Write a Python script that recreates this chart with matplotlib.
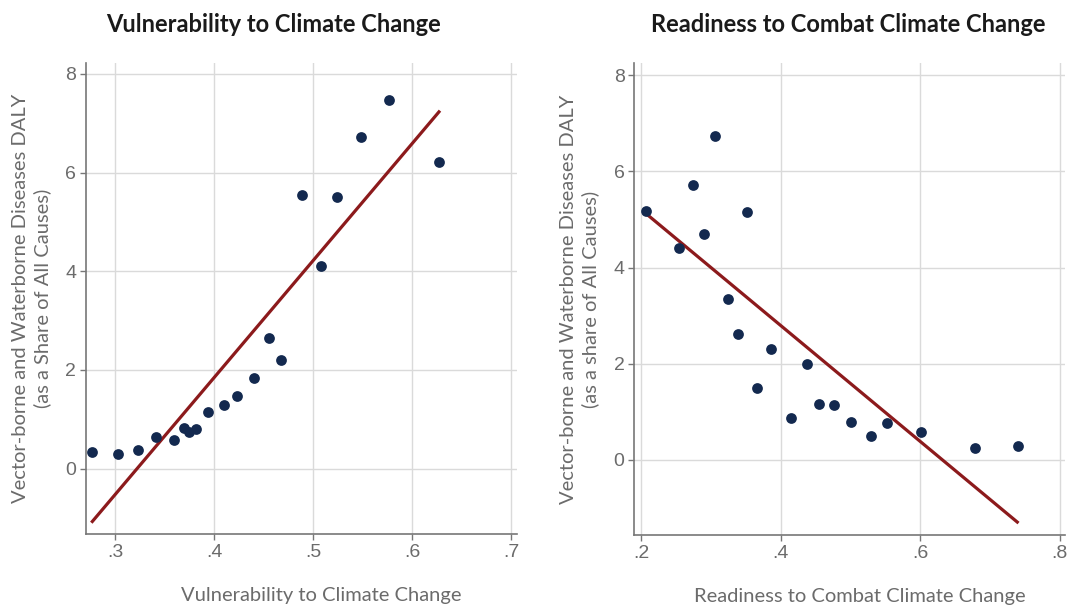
import numpy as np
import matplotlib
matplotlib.use("Agg")
import matplotlib.pyplot as plt

# vulnerability index vs. disease burden (DALY share, %)
vuln_x = [0.2768, 0.3030, 0.3229, 0.3414, 0.3590, 0.3690, 0.3747, 0.3818,
          0.3933, 0.4098, 0.4229, 0.4398, 0.4553, 0.4677, 0.4883, 0.5078,
          0.5239, 0.5479, 0.5768, 0.6273]
vuln_y = [0.34, 0.30, 0.37, 0.64, 0.58, 0.82, 0.74, 0.81,
          1.14, 1.30, 1.48, 1.84, 2.64, 2.20, 5.55, 4.10,
          5.51, 6.73, 7.47, 6.21]
vuln_fit_x = [0.2768, 0.6270]
vuln_fit_y = [-1.07, 7.23]

# readiness index vs. disease burden
ready_x = [0.2067, 0.2540, 0.2745, 0.2898, 0.3060, 0.3246, 0.3389, 0.3518,
           0.3657, 0.3866, 0.4153, 0.4373, 0.4545, 0.4760, 0.5007, 0.5289,
           0.5518, 0.6014, 0.6779, 0.7399]
ready_y = [5.18, 4.41, 5.71, 4.70, 6.73, 3.35, 2.62, 5.16,
           1.49, 2.31, 0.86, 1.99, 1.15, 1.13, 0.79, 0.49,
           0.77, 0.57, 0.25, 0.29]
ready_fit_x = [0.2067, 0.7390]
ready_fit_y = [5.13, -1.30]

vuln_ticks = [0.3, 0.4, 0.5, 0.6, 0.7]
ready_ticks = [0.2, 0.4, 0.6, 0.8]
y_ticks = [0, 2, 4, 6, 8]

DOT = "#13294f"
FIT = "#8c1a1c"
GRID = "#dadada"
TXT = "#6b6b6b"

fig = plt.figure(figsize=(10.71, 6.06), dpi=100)
ax1 = fig.add_axes([0.0803, 0.1183, 0.4021, 0.7777])
ax2 = fig.add_axes([0.5922, 0.1167, 0.4021, 0.7794])


def fmt(v):
    return ("%.1f" % v).lstrip("0")


def style(ax, xt, xlim, ylim, title, title_x, xlabel, xlabel_x, ylabel):
    ax.set_xlim(*xlim)
    ax.set_ylim(*ylim)
    ax.set_xticks(xt)
    ax.set_xticklabels([fmt(v) for v in xt])
    ax.set_yticks(y_ticks)
    ax.grid(True, color=GRID, linewidth=1.0)
    ax.set_axisbelow(True)
    for s in ("top", "right"):
        ax.spines[s].set_visible(False)
    for s in ("left", "bottom"):
        ax.spines[s].set_color("#777777")
        ax.spines[s].set_linewidth(1.2)
    ax.tick_params(colors="#777777", labelcolor=TXT, labelsize=14,
                   length=4, width=1, pad=3)
    for lab in ax.get_xticklabels() + ax.get_yticklabels():
        lab.set_family("Liberation Sans")
    ax.set_title(title, fontsize=17, fontweight="bold", family="Lato",
                 color="#1a1a1a", pad=22, x=title_x)
    ax.set_xlabel(xlabel, fontsize=14.5, family="Lato", color=TXT,
                  labelpad=19)
    ax.xaxis.label.set_x(xlabel_x)
    ax.set_ylabel(ylabel, fontsize=14.5, family="Lato", color=TXT,
                  labelpad=10, linespacing=1.3)


ax1.plot(vuln_fit_x, vuln_fit_y, color=FIT, lw=2.3, zorder=2)
ax1.scatter(vuln_x, vuln_y, s=60, color=DOT, zorder=3, linewidths=0)
style(ax1, vuln_ticks, (0.2704, 0.7055), (-1.33, 8.22),
      "Vulnerability to Climate Change", 0.435,
      "Vulnerability to Climate Change", 0.546,
      "Vector-borne and Waterborne Diseases DALY\n(as a Share of All Causes)")

ax2.plot(ready_fit_x, ready_fit_y, color=FIT, lw=2.3, zorder=2)
ax2.scatter(ready_x, ready_y, s=60, color=DOT, zorder=3, linewidths=0)
style(ax2, ready_ticks, (0.1904, 0.8072), (-1.575, 8.26),
      "Readiness to Combat Climate Change", 0.497,
      "Readiness to Combat Climate Change", 0.524,
      "Vector-borne and Waterborne Diseases DALY\n(as a share of All Causes)")

fig.savefig("out.png", dpi=100, facecolor="white")
